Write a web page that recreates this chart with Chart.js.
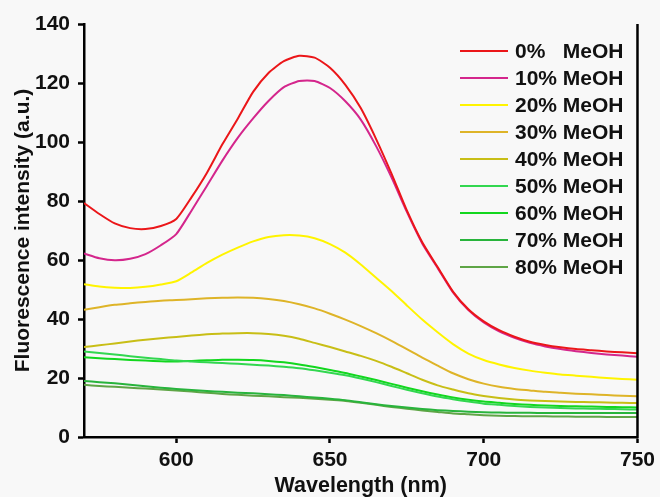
<!DOCTYPE html>
<html>
<head>
<meta charset="utf-8">
<script src="https://cdn.jsdelivr.net/npm/chart.js@4.4.1/dist/chart.umd.min.js"></script>
<style>
  html, body { margin: 0; padding: 0; background: #f8f8f8; }
  #wrap { width: 660px; height: 497px; }
</style>
</head>
<body>
<div id="wrap"><canvas id="fluoChart" width="660" height="497"></canvas></div>
<script>
// wavelength grid (nm), 5 nm steps
const wavelengths = [570, 575, 580, 585, 590, 595, 600, 605, 610, 615, 620, 625, 630, 635, 640, 645, 650, 655, 660,
  665, 670, 675, 680, 685, 690, 695, 700, 705, 710, 715, 720, 725, 730, 735, 740, 745, 750];

const labels = ['0%   MeOH', '10% MeOH', '20% MeOH', '30% MeOH', '40% MeOH', '50% MeOH', '60% MeOH', '70% MeOH', '80% MeOH'];

const meoh0 = [79.3, 75.6, 72.4, 70.8, 70.5, 71.5, 73.9, 81.3, 89.6, 99.2, 107.9, 117, 123.4, 127.4, 129.2, 128.6, 125.2, 119.4, 111.5,
  101, 89.3, 76.8, 66, 57.6, 49.3, 43.3, 39.2, 36.2, 34, 32.3, 31.2, 30.4, 29.8, 29.4, 29, 28.7, 28.4];
const meoh10 = [62.2, 60.6, 59.9, 60.4, 62, 65, 68.8, 76.8, 85.2, 93.7, 101.4, 108, 113.9, 118.6, 120.7, 120.7, 118.3, 113.8, 107.6,
  98.6, 88, 76.3, 65.6, 57.3, 49, 43, 38.8, 35.8, 33.6, 31.9, 30.7, 29.8, 29.1, 28.5, 28, 27.6, 27.2];
const meoh20 = [51.8, 51, 50.6, 50.5, 50.9, 51.7, 52.8, 55.8, 59, 61.8, 64.2, 66.3, 67.8, 68.4, 68.3, 67.4, 65.4, 62.5, 58.5,
  54, 49.5, 44.6, 39.8, 35.5, 31.5, 28.3, 26.1, 24.6, 23.4, 22.5, 21.8, 21.2, 20.8, 20.4, 20, 19.7, 19.4];
const meoh30 = [43.1, 44, 44.8, 45.3, 45.8, 46.2, 46.4, 46.7, 47, 47.2, 47.3, 47.2, 46.8, 46.1, 45, 43.6, 41.8, 39.8, 37.6,
  35.2, 32.6, 29.8, 26.9, 24.2, 21.6, 19.6, 18.1, 17, 16.3, 15.8, 15.3, 15, 14.7, 14.5, 14.2, 14, 13.8];
const meoh40 = [30.5, 31.1, 31.7, 32.4, 33, 33.5, 33.9, 34.4, 34.8, 35.1, 35.2, 35.2, 34.9, 34.3, 33.3, 31.9, 30.5, 29, 27.5,
  25.8, 23.8, 21.6, 19.4, 17.5, 16.1, 14.8, 13.9, 13.2, 12.7, 12.4, 12.2, 12, 11.9, 11.8, 11.7, 11.6, 11.5];
const meoh50 = [29, 28.5, 28, 27.4, 26.9, 26.4, 25.9, 25.6, 25.3, 25.1, 24.8, 24.5, 24.2, 23.8, 23.3, 22.6, 21.8, 20.9, 19.8,
  18.6, 17.3, 16, 14.8, 13.7, 12.8, 12, 11.3, 10.9, 10.5, 10.2, 10, 9.8, 9.7, 9.6, 9.5, 9.4, 9.3];
const meoh60 = [27, 26.7, 26.4, 26.1, 25.9, 25.7, 25.6, 25.8, 26, 26.2, 26.2, 26.1, 25.8, 25.3, 24.6, 23.7, 22.7, 21.7, 20.5,
  19.3, 18, 16.7, 15.5, 14.4, 13.4, 12.6, 12, 11.6, 11.2, 10.9, 10.7, 10.5, 10.4, 10.3, 10.2, 10.1, 10];
const meoh70 = [19, 18.6, 18.2, 17.7, 17.2, 16.7, 16.3, 15.9, 15.6, 15.3, 15, 14.8, 14.5, 14.2, 13.8, 13.4, 13, 12.5, 11.8,
  11.1, 10.5, 10, 9.5, 9.1, 8.8, 8.6, 8.4, 8.3, 8.2, 8.2, 8.1, 8.1, 8.1, 8.1, 8.1, 8.1, 8.1];
const meoh80 = [17.7, 17.3, 17, 16.7, 16.4, 16.1, 15.8, 15.4, 15, 14.6, 14.3, 14, 13.8, 13.5, 13.3, 13, 12.6, 12.2, 11.6,
  10.9, 10.2, 9.6, 9, 8.5, 8, 7.7, 7.4, 7.2, 7.1, 7.05, 7, 6.95, 6.9, 6.85, 6.8, 6.8, 6.8];

const xTicks = [600, 650, 700, 750];
const yTicks = [0, 20, 40, 60, 80, 100, 120, 140];

const seriesValues = [meoh0, meoh10, meoh20, meoh30, meoh40, meoh50, meoh60, meoh70, meoh80];
const colors = ['rgb(235,22,25)', 'rgb(212,38,140)', 'rgb(255,244,0)', 'rgb(222,180,40)', 'rgb(200,190,22)',
  'rgb(50,215,80)', 'rgb(18,215,30)', 'rgb(40,180,60)', 'rgb(95,165,70)'];

const FONT = 'Liberation Sans, Arial, sans-serif';

// legend drawn inside the plot, top right
const innerLegend = {
  id: 'innerLegend',
  afterDatasetsDraw(chart) {
    const ctx = chart.ctx;
    ctx.save();
    ctx.font = 'bold 21px ' + FONT;
    ctx.textBaseline = 'middle';
    ctx.fillStyle = '#111';
    chart.data.datasets.forEach((ds, i) => {
      const y = 51 + i * 27;
      ctx.strokeStyle = ds.borderColor;
      ctx.lineWidth = 2;
      ctx.beginPath();
      ctx.moveTo(460, y);
      ctx.lineTo(508, y);
      ctx.stroke();
      ctx.fillText(ds.label, 515, y + 1);
    });
    // right frame line
    const a = chart.chartArea;
    ctx.strokeStyle = '#000';
    ctx.lineWidth = 2.5;
    ctx.beginPath();
    ctx.moveTo(a.right, a.top);
    ctx.lineTo(a.right, a.bottom + 1);
    ctx.stroke();
    ctx.restore();
  }
};

const ctx = document.getElementById('fluoChart');

new Chart(ctx, {
  type: 'line',
  data: {
    datasets: seriesValues.map((vals, i) => ({
      label: labels[i],
      data: vals.map((v, j) => ({ x: wavelengths[j], y: v })),
      borderColor: colors[i],
      backgroundColor: colors[i],
      borderWidth: 2,
      pointRadius: 0,
      fill: false,
      tension: 0.2
    }))
  },
  options: {
    responsive: false,
    animation: false,
    layout: { padding: { top: 24, right: 18, left: 0, bottom: 0 } },
    plugins: {
      legend: { display: false },
      tooltip: { enabled: false }
    },
    scales: {
      x: {
        type: 'linear',
        min: 570,
        max: 750,
        afterBuildTicks: s => { s.ticks = xTicks.map(v => ({ value: v })); },
        afterFit: s => { s.height = 60; },
        grid: { drawOnChartArea: false, drawTicks: true, tickLength: 6, tickColor: '#000', tickWidth: 2.5 },
        border: { color: '#000', width: 2.5 },
        ticks: { color: '#111', font: { family: FONT, size: 21, weight: 'bold' }, padding: 5, maxRotation: 0 },
        title: { display: true, text: 'Wavelength (nm)', color: '#111',
          font: { family: FONT, size: 21.5, weight: 'bold', lineHeight: 1 }, padding: { top: 0, bottom: 0 } }
      },
      y: {
        min: 0,
        max: 140,
        afterBuildTicks: s => { s.ticks = yTicks.map(v => ({ value: v })); },
        afterFit: s => { s.width = 84; },
        grid: { drawOnChartArea: false, drawTicks: true, tickLength: 6, tickColor: '#000', tickWidth: 2.5 },
        border: { color: '#000', width: 2.5 },
        ticks: { color: '#111', font: { family: FONT, size: 21, weight: 'bold' }, padding: 8 },
        title: { display: true, text: 'Fluorescence intensity (a.u.)', color: '#111',
          font: { family: FONT, size: 21, weight: 'bold', lineHeight: 1 }, padding: { top: 13, bottom: 0 } }
      }
    }
  },
  plugins: [innerLegend]
});
</script>
</body>
</html>
